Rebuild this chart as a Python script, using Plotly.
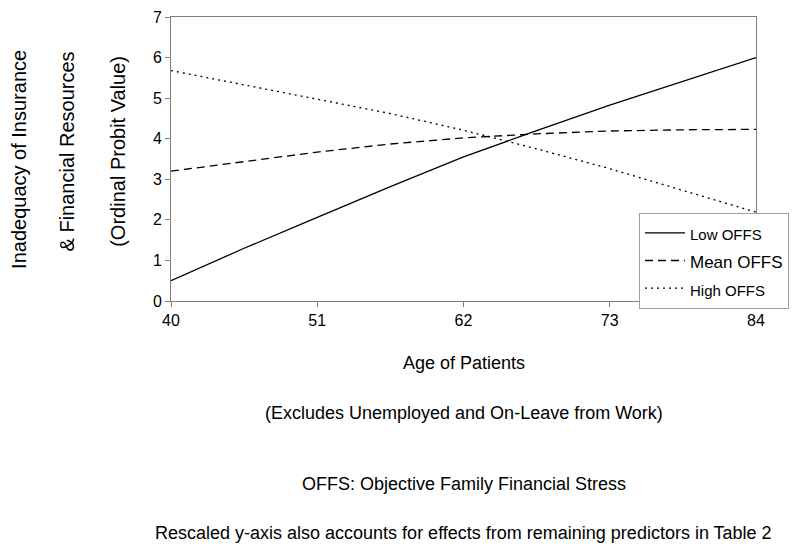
import plotly.graph_objects as go

# Age of patients
ages = [40, 45.5, 51, 56.5, 62, 67.5, 73, 78.5, 84]

# Ordinal probit values
low_offs = [0.5, 1.3, 2.06, 2.82, 3.55, 4.2, 4.83, 5.42, 6.0]
mean_offs = [3.2, 3.43, 3.67, 3.87, 4.02, 4.12, 4.19, 4.22, 4.23]
high_offs = [5.68, 5.33, 4.98, 4.62, 4.21, 3.75, 3.26, 2.72, 2.19]

x_ticks = [40, 51, 62, 73, 84]
y_ticks = [0, 1, 2, 3, 4, 5, 6, 7]

FONT = "Liberation Sans, Arial, sans-serif"

fig = go.Figure()
fig.add_trace(go.Scatter(x=ages, y=low_offs, mode="lines",
                         name="<span style='font-size:15px'>Low OFFS</span>",
                         line=dict(color="black", width=1.3)))
fig.add_trace(go.Scatter(x=ages, y=mean_offs, mode="lines",
                         name="<span style='font-size:17px'>Mean OFFS</span>",
                         line=dict(color="black", width=1.3, dash="8px,5px")))
fig.add_trace(go.Scatter(x=ages, y=high_offs, mode="lines",
                         name="<span style='font-size:15px'>High OFFS</span>",
                         line=dict(color="black", width=1.3, dash="2px,4px")))

# page body has an 8px margin, so the figure is sized to the visible area
fig.update_layout(
    width=792, height=546,
    margin=dict(l=163, r=44, t=9, b=253, autoexpand=False),
    plot_bgcolor="white", paper_bgcolor="white",
    font=dict(family=FONT, size=16, color="black"),
    showlegend=True,
    legend=dict(x=0.8, y=0.31, xanchor="left", yanchor="top",
                bgcolor="white", bordercolor="#a0a0a0", borderwidth=1,
                font=dict(size=19), tracegroupgap=0, itemwidth=40),
)
fig.update_xaxes(range=[40, 84], tickvals=x_ticks, ticks="outside", ticklen=5,
                 tickcolor="#808080", showline=True, linecolor="#808080",
                 mirror=True, showgrid=False, zeroline=False, automargin=False,
                 tickfont=dict(size=16))
fig.update_yaxes(range=[0, 7], tickvals=y_ticks, ticks="outside", ticklen=5,
                 tickcolor="#808080", showline=True, linecolor="#808080",
                 mirror=True, showgrid=False, zeroline=False, automargin=False,
                 tickfont=dict(size=16))

ylines = [("Inadequacy of Insurance", -0.26, 0.5),
          ("& Financial Resources", -0.178, 0.526),
          ("(Ordinal Probit Value)", -0.092, 0.526)]
for txt, xp, yp in ylines:
    fig.add_annotation(text=txt, xref="paper", yref="paper", x=xp, y=yp,
                       textangle=-90, showarrow=False, font=dict(size=20),
                       xanchor="center", yanchor="middle")

notes = [("Age of Patients", -0.218),
         ("(Excludes Unemployed and On-Leave from Work)", -0.394),
         ("OFFS: Objective Family Financial Stress", -0.644),
         ("Rescaled y-axis also accounts for effects from remaining predictors in Table 2", -0.817)]
for txt, yp in notes:
    fig.add_annotation(text=txt, xref="paper", yref="paper", x=0.5, y=yp,
                       showarrow=False, font=dict(size=18),
                       xanchor="center", yanchor="middle")

fig.write_html("out.html")
